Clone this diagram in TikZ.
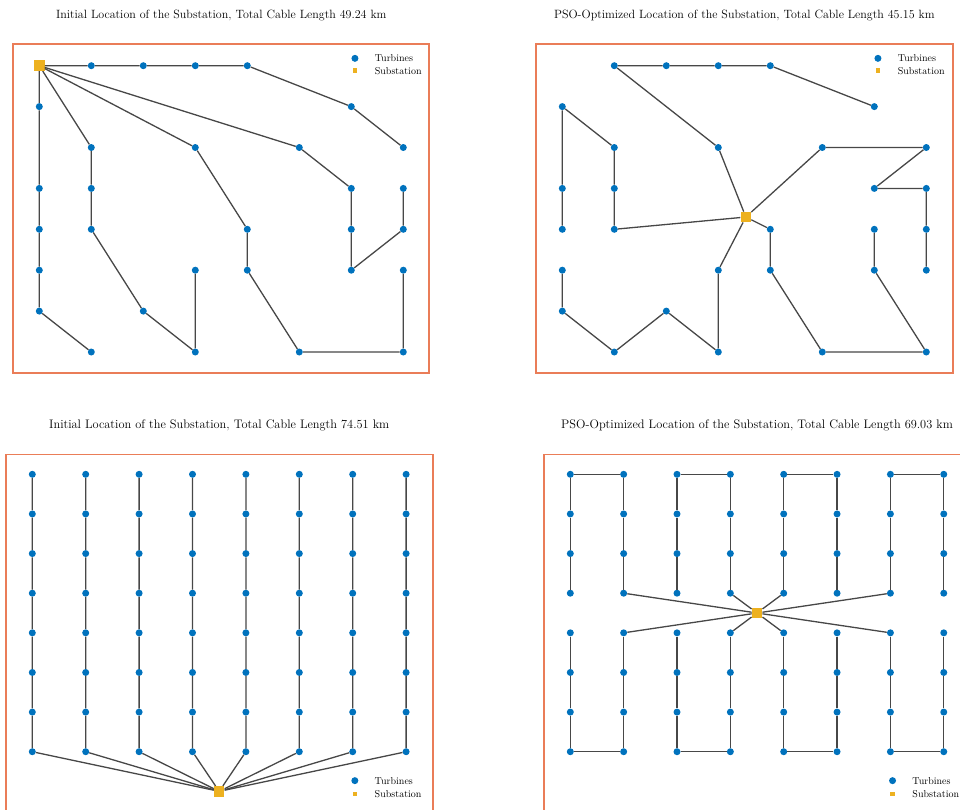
\documentclass[tikz,border=0pt]{standalone}
\usetikzlibrary{positioning}
\definecolor{turbblue}{RGB}{0,114,189}
\definecolor{subyellow}{RGB}{237,177,32}
\definecolor{framered}{RGB}{234,125,88}
\tikzstyle{turbine}=[circle,fill=turbblue,inner sep=0pt,minimum size=7pt]
\tikzstyle{substation}=[rectangle,fill=subyellow,inner sep=0pt,minimum size=10.5pt]
\tikzstyle{legsub}=[rectangle,fill=subyellow,inner sep=0pt,minimum size=4.5pt]
\tikzstyle{cable}=[line width=1.3pt,black!72]
\tikzstyle{plotframe}=[draw=framered,line width=1.8pt]
\tikzstyle{plottitle}=[font=\fontsize{12}{14}\selectfont]
\tikzstyle{legtext}=[font=\fontsize{10}{12}\selectfont,inner sep=0pt]

\begin{document}
\begin{tikzpicture}[x=1pt,y=-1pt]
  \useasboundingbox (0,0) rectangle (960,809);
  \clip (0,0) rectangle (960,809);

  % 30 turbines, substation in the corner
  \begin{scope}[shift={(39.3,65.7)},x=52pt,y=-40.9pt]
    \draw[plotframe] (-0.5,-0.53) rectangle (7.5,7.51);
    \node[plottitle] (T1) at (3.5,-1.22) {Initial Location of the Substation, Total Cable Length 49.24 km};
    \node[substation] (s1) at (0,0) {};
    \foreach \c/\r in {1/0,2/0,3/0,4/0,6/1,7/2,0/1,0/3,0/4,0/5,0/6,1/7,1/2,1/3,1/4,2/6,3/7,3/5,
                       3/2,4/4,4/5,5/7,7/7,7/5,5/2,6/3,6/4,6/5,7/4,7/3}
      \node[turbine] (a\c\r) at (\c,\r) {};
    \draw[cable] (s1) -- (a10) -- (a20) -- (a30) -- (a40) -- (a61) -- (a72);
    \draw[cable] (s1) -- (a01) -- (a03) -- (a04) -- (a05) -- (a06) -- (a17);
    \draw[cable] (s1) -- (a12) -- (a13) -- (a14) -- (a26) -- (a37) -- (a35);
    \draw[cable] (s1) -- (a32) -- (a44) -- (a45) -- (a57) -- (a77) -- (a75);
    \draw[cable] (s1) -- (a52) -- (a63) -- (a64) -- (a65) -- (a74) -- (a73);
    % legend
    \node[turbine] (ld1) at (6.07,-0.18) {};
    \node[legsub] (lq1) at (6.07,0.12) {};
    \node[legtext,right=16pt of ld1] (lt1) {Turbines};
    \node[legtext,right=17.25pt of lq1] (lu1) {Substation};
  \end{scope}

  % same 30 turbines, optimized substation
  \begin{scope}[shift={(562.3,65.7)},x=52pt,y=-40.9pt]
    \draw[plotframe] (-0.5,-0.53) rectangle (7.51,7.51);
    \node[plottitle] (T2) at (3.5,-1.22) {PSO-Optimized Location of the Substation, Total Cable Length 45.15 km};
    \node[substation] (s2) at (3.53,3.70) {};
    \foreach \c/\r in {1/0,2/0,3/0,4/0,6/1,7/2,0/1,0/3,0/4,0/5,0/6,1/7,1/2,1/3,1/4,2/6,3/7,3/5,
                       3/2,4/4,4/5,5/7,7/7,7/5,5/2,6/3,6/4,6/5,7/4,7/3}
      \node[turbine] (b\c\r) at (\c,\r) {};
    \draw[cable] (s2) -- (b32) -- (b10) -- (b20) -- (b30) -- (b40) -- (b61);
    \draw[cable] (s2) -- (b14) -- (b13) -- (b12) -- (b01) -- (b03) -- (b04);
    \draw[cable] (s2) -- (b52) -- (b72) -- (b63) -- (b73) -- (b74) -- (b75);
    \draw[cable] (s2) -- (b44) -- (b45) -- (b57) -- (b77) -- (b65) -- (b64);
    \draw[cable] (s2) -- (b35) -- (b37) -- (b26) -- (b17) -- (b06) -- (b05);
    % legend
    \node[turbine] (ld2) at (6.07,-0.18) {};
    \node[legsub] (lq2) at (6.07,0.12) {};
    \node[legtext,right=16pt of ld2] (lt2) {Turbines};
    \node[legtext,right=17.25pt of lq2] (lu2) {Substation};
  \end{scope}

  % 8x8 grid, substation below the rows
  \begin{scope}[shift={(32.3,474.3)},x=53.4pt,y=-39.63pt]
    \draw[plotframe] (-0.5,-0.5) rectangle (7.51,9.5);
    \node[plottitle,font=\fontsize{12.35}{14}\selectfont] (T3) at (3.5,-1.23) {Initial Location of the Substation, Total Cable Length 74.51 km};
    \node[substation] (s3) at (3.5,8) {};
    \foreach \c in {0,...,7}
      \foreach \r in {0,...,7}
        \node[turbine] (c\c\r) at (\c,\r) {};
    \foreach \c in {0,...,7}
      \draw[cable] (c\c0) -- (c\c1) -- (c\c2) -- (c\c3) -- (c\c4) -- (c\c5) -- (c\c6) -- (c\c7) -- (s3);
    % legend
    \node[turbine] (ld3) at (6.04,7.73) {};
    \node[legsub] (lq3) at (6.04,8.07) {};
    \node[legtext,right=16pt of ld3] (lt3) {Turbines};
    \node[legtext,right=17.25pt of lq3] (lu3) {Substation};
  \end{scope}

  % 8x8 grid, substation in the middle
  \begin{scope}[shift={(570.3,474.3)},x=53.35pt,y=-39.63pt]
    \draw[plotframe] (-0.5,-0.5) rectangle (7.5,9.5);
    \node[plottitle,font=\fontsize{12.35}{14}\selectfont] (T4) at (3.5,-1.23) {PSO-Optimized Location of the Substation, Total Cable Length 69.03 km};
    \node[substation] (s4) at (3.5,3.5) {};
    \foreach \c in {0,...,7}
      \foreach \r in {0,...,7}
        \node[turbine] (d\c\r) at (\c,\r) {};
    \foreach \c/\d in {0/1,2/3,4/5,6/7} {
      \draw[cable] (d\c3) -- (d\c2) -- (d\c1) -- (d\c0) -- (d\d0) -- (d\d1) -- (d\d2) -- (d\d3);
      \draw[cable] (d\c4) -- (d\c5) -- (d\c6) -- (d\c7) -- (d\d7) -- (d\d6) -- (d\d5) -- (d\d4);
    }
    \foreach \n in {13,33,43,63,14,34,44,64}
      \draw[cable] (s4) -- (d\n);
    % legend
    \node[turbine] (ld4) at (6.04,7.73) {};
    \node[legsub] (lq4) at (6.04,8.07) {};
    \node[legtext,right=16pt of ld4] (lt4) {Turbines};
    \node[legtext,right=17.25pt of lq4] (lu4) {Substation};
  \end{scope}
\end{tikzpicture}
\end{document}
